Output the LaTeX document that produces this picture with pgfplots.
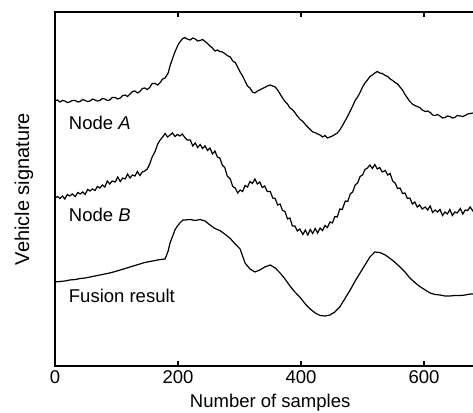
\documentclass[border=0pt]{standalone}
\usepackage{fontspec}
\setmainfont{Liberation Sans}
\usepackage{pgfplots}
\pgfplotsset{compat=1.18}

\begin{document}
\begin{tikzpicture}[font=\fontsize{9.25}{11}\selectfont]
\begin{axis}[
    at={(0,0)}, anchor=south west,
    scale only axis,
    width=212.2pt, height=177pt,
    xmin=0, xmax=690,
    ymin=0, ymax=354,
    xtick={0,200,400,600},
    ytick=\empty,
    tick align=inside,
    major tick length=2.5pt,
    axis line style={line width=0.65pt},
    every tick/.style={line width=0.65pt, black},
    /pgf/number format/assume math mode=true,
    xticklabel style={yshift=1pt},
    xlabel={Number of samples},
    ylabel={Vehicle signature},
    every axis x label/.style={at={(axis description cs:0.507,-0.0588)}, anchor=north},
    every axis y label/.style={at={(axis description cs:-0.073,0.5)}, anchor=center, rotate=90, font=\fontsize{10}{12}\selectfont},
    clip=false,
]
% Node A
\addplot[black, line width=0.6pt] coordinates {
(0,265) (4,266) (8,264) (12,265.5) (16,265) (20,263.5) (24,264) (28,265.5) (33,265.5)
(37,264) (41,264.5) (45,266.5) (49,265.5) (53,264.5) (57,265) (61,267) (65,266)
(69,265) (73,265.5) (77,267.5) (81,267) (85,265.5) (89,266) (93,268.5) (98,268.5)
(102,267) (106,268) (110,270.5) (114,271) (118,269.5) (122,272) (126,274.5) (130,275)
(134,273) (138,274.5) (142,277.5) (146,278) (150,276.5) (154,278.5) (158,282.5)
(163,282.5) (167,281) (171,283.5) (175,287) (179,288) (184,293) (187,300) (192,309)
(195,314) (200,321) (203,324) (207,327) (211,328.5) (215,327) (220,326) (224,328)
(228,327) (232,325) (236,325.5) (240,326.5) (244,324.5) (248,322.5) (252,320) (256,318)
(260,315) (264,316) (268,314.5) (272,314) (276,312.5) (280,310.5) (285,309) (289,305)
(293,303.5) (297,299) (301,294) (305,290) (309,285) (313,280) (317,278) (321,274)
(325,273) (329,275) (333,276) (337,277.5) (341,278.5) (345,280) (350,281) (354,280)
(358,279) (362,276) (366,272) (370,268) (374,264.5) (378,262) (382,258) (386,256.5)
(390,253.5) (394,250) (398,247) (403,244.5) (407,241.5) (411,239) (415,236.5) (419,234)
(423,233.5) (427,232) (431,231) (435,229) (439,230.5) (443,228) (447,229) (451,230)
(455,231.5) (459,233) (463,236) (467,240) (472,245.5) (476,250) (480,255) (484,260)
(488,265.5) (492,269) (496,273.5) (500,279) (504,283) (508,286) (512,289.5) (516,291)
(520,293) (524,294.5) (528,293) (532,292.5) (537,290.5) (541,289.5) (545,287)
(549,285.5) (553,283.5) (557,282) (561,279) (565,276) (569,271.5) (573,268) (577,264.5)
(581,262) (585,260.5) (589,259.5) (593,258.5) (597,256) (602,254.5) (606,255)
(610,253.5) (614,251) (618,250.5) (622,251.5) (626,250) (630,248) (634,248.5) (638,250)
(642,249.5) (646,248) (650,248.5) (654,250.5) (659,250) (663,249.5) (667,250.5)
(671,252) (675,252.5) (680,253)
};
% Node B
\addplot[black, line width=0.6pt] coordinates {
(0,168) (4,169.5) (8,167.5) (12,170) (16,167) (20,171.5) (24,170) (28,172)
(33,169.5) (37,173.5) (41,172) (45,174) (49,171.5) (53,176.5) (57,175) (61,177)
(65,175.5) (69,179.5) (73,178) (77,181) (81,179) (85,185) (89,182) (93,185)
(98,184) (102,189) (106,184.5) (110,188) (114,187) (118,192) (122,188) (126,191)
(130,190) (134,194.5) (138,190.5) (142,194) (146,195) (150,197) (154,202) (158,209)
(163,215) (167,222) (171,226) (175,229) (179,232.5) (183,229) (187,231) (191,233)
(195,229.5) (199,231.5) (203,230) (207,232) (211,228.5) (215,226) (220,226) (224,220)
(228,223) (232,218.5) (236,221.5) (240,217.5) (244,220) (248,215.5) (252,218) (256,212)
(260,215) (264,209) (268,208) (272,201) (276,198.5) (280,190) (285,187) (289,179.5)
(293,178) (297,173) (301,176) (305,174.5) (309,180.5) (313,179) (317,184.5) (321,182.5)
(325,187) (329,182) (333,184) (337,178.5) (341,180) (345,174.5) (350,174.5) (354,168)
(358,167.5) (362,161) (366,162) (370,155.5) (374,154.5) (378,147) (382,148) (386,140)
(390,140) (394,135) (398,137) (403,131.5) (407,136) (411,131) (415,136.5) (419,132.5)
(423,137.5) (427,133) (431,138) (435,135.5) (439,140.5) (443,138.5) (447,144) (451,143)
(455,149.5) (459,149) (463,157) (467,156.5) (472,165) (476,164.5) (480,172) (484,174)
(488,181) (492,183) (496,189.5) (500,191) (504,196.5) (508,198) (512,201) (516,197.5)
(520,201.5) (524,197) (528,198.5) (532,194) (537,195.5) (541,191) (545,192.5) (549,185)
(553,183) (557,177.5) (561,178) (565,172.5) (569,173) (573,167.5) (577,168) (581,162)
(585,164) (589,159) (593,161) (597,157) (602,159) (606,156) (610,160) (614,153.5)
(618,156) (622,154) (626,156.5) (630,150.5) (634,154) (638,152) (642,156.5) (646,150.5)
(650,154) (654,153) (659,157.5) (663,152) (667,156) (671,155.5) (675,159) (680,154.5)
};
% Fusion result
\addplot[black, line width=0.6pt] coordinates {
(0,84) (8,84.5) (16,85) (24,86) (33,86.5) (41,87.5) (49,88) (57,89) (65,90)
(73,91) (81,92) (89,93) (98,94.5) (106,96) (114,97.5) (122,99) (130,100.5)
(138,102) (146,103.5) (154,104.5) (163,105.5) (171,106.5) (179,107) (184,115)
(187,123) (192,131) (195,136) (198,139) (203,143) (208,146) (211,146) (220,146.5)
(228,145.5) (236,146.5) (244,145) (252,141) (260,137.5) (268,135.5) (276,132)
(285,127.5) (293,122) (301,117) (309,103) (317,97) (325,94) (333,96) (341,99)
(350,101) (358,98) (366,93) (374,87) (382,80) (390,74) (398,69) (407,62) (415,57)
(423,53) (431,50.5) (439,50) (447,51) (455,54) (463,59) (472,68) (480,76) (488,85)
(496,93) (504,101) (512,109) (520,114) (528,113.5) (537,111) (545,107.5) (553,103.5)
(561,99) (569,94) (577,88) (585,83.5) (593,79.5) (602,76) (610,73) (618,71.5)
(626,71) (634,70) (642,70) (650,70.5) (659,70.5) (667,71) (675,72) (680,72)
};
\node[anchor=west, inner sep=0pt] at (axis cs:22,243) {Node \textit{A}};
\node[anchor=west, inner sep=0pt] at (axis cs:22,151) {Node \textit{B}};
\node[anchor=west, inner sep=0pt] at (axis cs:22,70) {Fusion result};
\end{axis}
\pgfresetboundingbox
\path[use as bounding box] (-27.5pt,-23.5pt) rectangle (209pt,183pt);
\end{tikzpicture}
\end{document}
